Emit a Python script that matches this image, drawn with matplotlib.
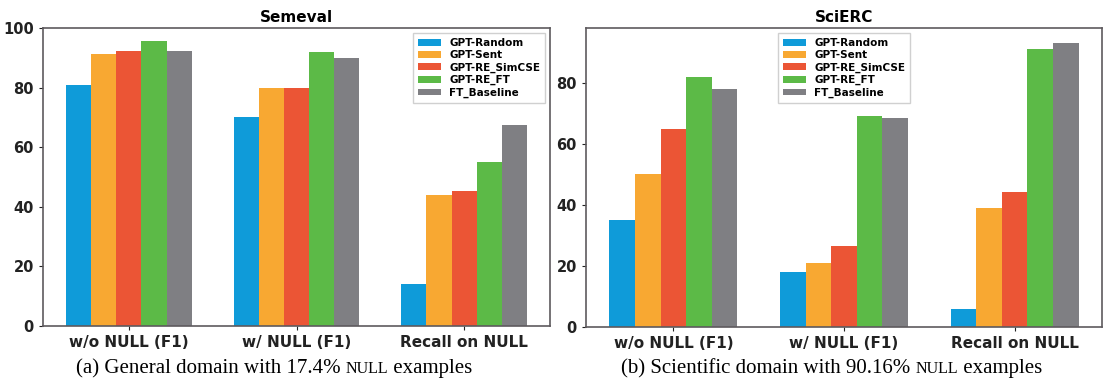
import matplotlib
matplotlib.use("Agg")
import matplotlib.pyplot as plt
import numpy as np

groups = ["w/o NULL (F1)", "w/ NULL (F1)", "Recall on NULL"]
methods = ["GPT-Random", "GPT-Sent", "GPT-RE_SimCSE", "GPT-RE_FT", "FT_Baseline"]
colors = ["#0f9bd9", "#f8a832", "#eb5535", "#5cba47", "#7f7f83"]

# values per method, one entry per group
semeval = {
    "GPT-Random":    [81.0, 70.0, 14.0],
    "GPT-Sent":      [91.2, 80.0, 44.1],
    "GPT-RE_SimCSE": [92.3, 80.0, 45.2],
    "GPT-RE_FT":     [95.5, 92.0, 55.1],
    "FT_Baseline":   [92.3, 90.0, 67.3],
}
scierc = {
    "GPT-Random":    [35.0, 18.1, 6.0],
    "GPT-Sent":      [50.0, 20.9, 39.0],
    "GPT-RE_SimCSE": [64.9, 26.4, 44.1],
    "GPT-RE_FT":     [81.8, 69.0, 91.2],
    "FT_Baseline":   [77.9, 68.5, 93.2],
}
captions = [("(a) General domain with 17.4%", "examples"),
            ("(b) Scientific domain with 90.16%", "examples")]

W, H = 1103, 387
fig = plt.figure(figsize=(W / 100, H / 100), dpi=100)
ax1 = fig.add_axes([43 / W, 1 - 326 / H, 507 / W, 298 / H])
ax2 = fig.add_axes([586 / W, 1 - 327 / H, 516 / W, 299 / H])

x = np.arange(len(groups))
bw = 0.15

def draw(ax, data, title, legend_loc, yticks):
    for i, m in enumerate(methods):
        ax.bar(x + (i - 2) * bw, data[m], bw, color=colors[i], label=m)
    ax.set_xticks(x)
    ax.set_xticklabels(groups, fontsize=11, fontweight="bold")
    ax.set_yticks(yticks)
    ax.set_yticklabels([str(t) for t in yticks], fontsize=10.5, fontweight="bold")
    ax.set_title(title, fontsize=11, fontweight="bold", pad=4)
    for s in ax.spines.values():
        s.set_color("#5e5a5e")
        s.set_linewidth(1.2)
    ax.tick_params(colors="#222222", length=3, width=0.8)
    leg = ax.legend(loc=legend_loc, prop={"size": 7.5, "weight": "bold"},
                    handlelength=2.2, handleheight=0.6, labelspacing=0.22,
                    borderpad=0.45, fancybox=False, framealpha=1)
    leg.get_frame().set_edgecolor("#d0d0d0")

draw(ax1, semeval, "Semeval", "upper right", [0, 20, 40, 60, 80, 100])
ax1.set_ylim(0, 100)
draw(ax2, scierc, "SciERC", "upper center", [0, 20, 40, 60, 80])
ax2.set_ylim(0, 98)

# captions with "NULL" in small caps style
fig.canvas.draw()
r = fig.canvas.get_renderer()
centers = [274, 832]
for (pre, post), cx in zip(captions, centers):
    y = 1 - 373 / H
    parts = [(pre + " ", 15), ("NULL", 11.5), (" " + post, 15)]
    texts = [fig.text(0, y, s, family="Liberation Serif", fontsize=fs, va="baseline")
             for s, fs in parts]
    widths = [t.get_window_extent(r).width for t in texts]
    xpos = cx - sum(widths) / 2
    for t, w in zip(texts, widths):
        t.set_x(xpos / W)
        xpos += w

fig.savefig("out.png", dpi=100)
